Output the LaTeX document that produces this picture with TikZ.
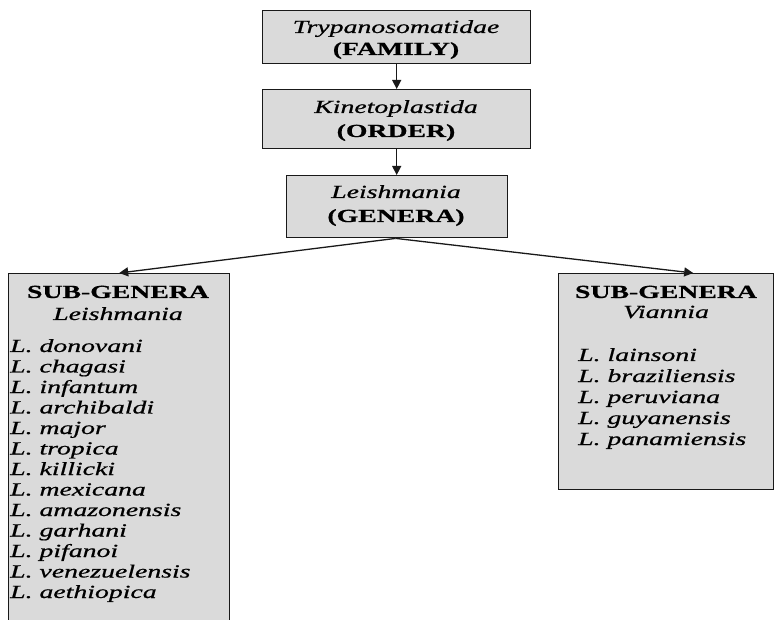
\documentclass[tikz,border=0pt]{standalone}
\usepackage{fontspec}
\setmainfont{Liberation Serif}[FakeStretch=1.5, FakeBold=0.7]
\usetikzlibrary{arrows.meta}
\definecolor{boxgray}{RGB}{218,218,218}
\begin{document}
\begin{tikzpicture}[x=1pt,y=-1pt,
  box/.style={draw=black!90, line width=1.4pt, fill=boxgray, inner sep=0pt, anchor=north west},
  txt/.style={anchor=base, inner sep=0pt, font=\fontsize{18.5}{20.5}\selectfont},
  item/.style={txt, anchor=base west, font=\fontsize{18.5}{20.5}\selectfont\itshape},
  link/.style={draw=black!90, line width=1.3pt, -{Triangle[length=9pt,width=9pt]}}]
\useasboundingbox (0,0) rectangle (774,620);
\clip (0,0) rectangle (774,620);

% taxonomy boxes
\node[box, minimum width=268, minimum height=53] (fam) at (262,10) {};
\node[box, minimum width=268, minimum height=59] (ord) at (262,89) {};
\node[box, minimum width=221, minimum height=62] (gen) at (285.5,175) {};
\node[box, minimum width=221, minimum height=370] (lsub) at (8,273) {};
\node[box, minimum width=215, minimum height=216] (rsub) at (558,273) {};

% box titles
\node[txt] (famA) at (396,33) {\itshape Trypanosomatidae};
\node[txt] (famB) at (396,55) {\bfseries (FAMILY)};
\node[txt] (ordA) at (396,113) {\itshape Kinetoplastida};
\node[txt] (ordB) at (396,137) {\bfseries (ORDER)};
\node[txt] (genA) at (396,198) {\itshape Leishmania};
\node[txt] (genB) at (396,222) {\bfseries (GENERA)};
\node[txt] (lsubA) at (118,298) {\bfseries SUB-GENERA};
\node[txt] (lsubB) at (118,320) {\itshape Leishmania};
\node[txt] (rsubA) at (666,298) {\bfseries SUB-GENERA};
\node[txt] (rsubB) at (666,318) {\itshape Viannia};

% species lists
\foreach \s [count=\i] in {donovani, chagasi, infantum, archibaldi, major, tropica,
  killicki, mexicana, amazonensis, garhani, pifanoi, venezuelensis, aethiopica}
  \node[item] (ls\i) at (10, 352+20.5*\i-20.5) {L. \s};
\foreach \s [count=\i] in {lainsoni, braziliensis, peruviana, guyanensis, panamiensis}
  \node[item] (rs\i) at (578, 361+21*\i-21) {L. \s};

% connectors
\draw[link] (fam.south) -- (ord.north);
\draw[link] (ord.south) -- (gen.north);
\coordinate (split) at ([xshift=-1pt]gen.south);
\draw[link] (split) -- (lsub.north);
\draw[link] (split) -- ([xshift=27pt]rsub.north);
\end{tikzpicture}
\end{document}
